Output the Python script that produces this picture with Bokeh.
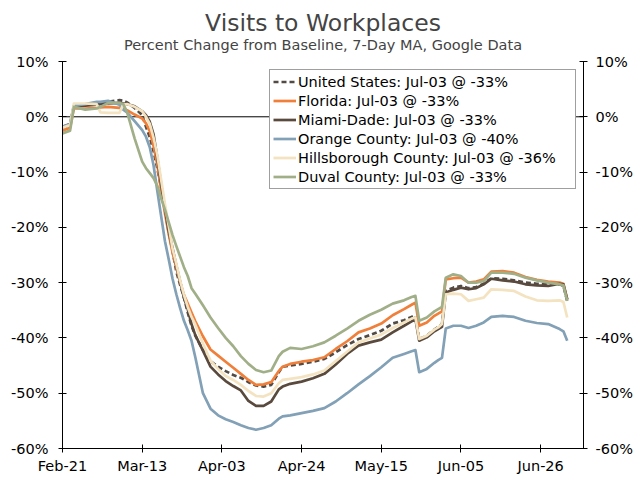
import pandas as pd
from bokeh.plotting import figure
from bokeh.models import (FixedTicker, PrintfTickFormatter, DatetimeTickFormatter,
                          LinearAxis, Span, Legend, LegendItem, Title, Range1d)
from bokeh.embed import file_html
from bokeh.resources import INLINE

# ---------------- data (percent change from baseline, 7-day MA) ----------------
start_date = "2020-02-21"
end_axis_date = "2020-07-07 07:00"
day_offsets = [0, 2, 3, 6, 9, 10, 12, 15, 16, 17,
               19, 21, 22, 23, 24, 25, 26, 27, 28, 29,
               30, 31, 32, 33, 34, 35, 37, 39, 41, 43,
               45, 47, 49, 51, 53, 55, 57, 58, 60, 63,
               66, 69, 72, 75, 78, 81, 84, 87, 90, 92,
               93, 94, 96, 98, 99, 100, 101, 103, 105, 107,
               109, 111, 113, 116, 119, 122, 125, 128, 131, 132,
               133]

united_states = [-2.0, -1.6, 2.0, 2.2, 2.4, 2.5, 2.7, 3.0, 2.9, 2.6,
                 1.6, 0.3, -1.8, -3.7, -6.2, -9.4, -12.8, -16.9, -21.0, -24.3,
                 -28.0, -30.4, -32.7, -35.4, -37.8, -39.6, -42.2, -44.2, -45.2, -46.0,
                 -46.7, -47.2, -48.0, -48.6, -48.8, -48.5, -46.2, -45.2, -45.0, -44.7,
                 -44.3, -43.8, -42.6, -41.3, -40.2, -39.5, -38.7, -37.4, -36.8, -36.2,
                 -36.0, -40.2, -39.6, -38.5, -38.0, -37.5, -31.5, -30.9, -30.6, -31.0,
                 -30.8, -30.2, -29.2, -29.3, -29.6, -30.0, -30.2, -30.3, -30.3, -30.6,
                 -33.3]

florida = [-2.5, -2.0, 1.5, 1.5, 1.6, 1.7, 1.8, 1.6, 1.5, 1.2,
           0.4, -0.3, -1.2, -2.6, -5.3, -8.7, -13.3, -17.5, -21.2, -24.6,
           -27.3, -29.9, -32.2, -33.8, -35.4, -37.0, -39.7, -42.1, -43.2, -44.3,
           -45.4, -46.5, -47.6, -48.5, -48.4, -48.0, -46.0, -45.2, -44.7, -44.3,
           -44.0, -43.5, -42.0, -40.6, -39.0, -38.3, -37.4, -35.9, -34.8, -34.0,
           -33.6, -37.8, -37.2, -36.0, -35.6, -35.2, -29.4, -29.2, -29.1, -30.0,
           -29.8, -29.4, -28.0, -27.9, -28.2, -29.0, -29.5, -29.8, -30.0, -30.2,
           -33.0]

miami_dade = [-1.8, -1.3, 2.0, 2.0, 2.2, 2.3, 2.4, 2.5, 2.4, 2.3,
              1.9, 1.0, 0.3, -0.9, -3.2, -7.5, -12.2, -16.6, -20.7, -23.8,
              -26.9, -29.8, -32.7, -34.8, -37.5, -39.5, -42.3, -45.2, -46.6, -47.8,
              -48.7, -49.5, -51.4, -52.3, -52.3, -51.5, -49.3, -48.8, -48.3, -47.9,
              -47.3, -46.5, -44.8, -42.9, -41.4, -40.8, -40.3, -39.0, -37.8, -37.0,
              -36.6, -40.5, -39.9, -38.8, -38.4, -38.0, -31.8, -31.3, -30.9, -31.2,
              -31.0, -30.3, -29.3, -29.6, -29.8, -30.3, -30.5, -30.6, -30.2, -30.3,
              -33.0]

orange_county = [-1.8, -1.3, 2.0, 2.3, 2.7, 2.7, 2.9, 2.2, 1.3, 0.8,
                 -0.8, -2.4, -3.6, -5.5, -8.8, -13.5, -18.0, -22.5, -25.8, -29.3,
                 -32.1, -34.6, -36.9, -38.6, -40.5, -43.5, -50.0, -52.8, -54.0, -54.7,
                 -55.2, -55.8, -56.3, -56.6, -56.3, -55.8, -54.6, -54.2, -54.0, -53.6,
                 -53.2, -52.7, -51.5, -50.0, -48.4, -46.9, -45.3, -43.6, -42.9, -42.4,
                 -42.2, -46.2, -45.6, -44.5, -44.0, -43.6, -38.3, -37.8, -37.8, -38.2,
                 -37.8, -37.2, -36.2, -36.0, -36.2, -36.9, -37.3, -37.5, -38.4, -38.8,
                 -40.5]

hillsborough = [-2.0, -1.5, 2.4, 2.4, 2.3, 0.8, 0.7, 0.7, 2.2, 2.3,
                1.8, 1.0, 0.0, -1.3, -3.8, -7.0, -11.4, -15.8, -19.8, -23.9,
                -26.6, -29.6, -32.2, -34.4, -36.2, -37.6, -41.0, -44.1, -45.6, -46.9,
                -47.6, -48.5, -49.6, -50.5, -50.6, -50.0, -48.2, -47.6, -47.4, -47.1,
                -46.6, -45.9, -44.2, -42.5, -40.8, -40.1, -39.4, -38.2, -37.2, -36.5,
                -36.3, -40.2, -39.6, -38.5, -38.1, -37.5, -32.1, -32.0, -32.1, -33.3,
                -33.0, -32.7, -31.2, -31.3, -31.5, -32.5, -33.2, -33.3, -33.2, -33.5,
                -36.3]

duval = [-3.0, -2.5, 1.8, 1.3, 1.5, 1.8, 2.5, 2.5, 2.3, 0.9,
         -3.9, -8.1, -9.3, -10.2, -11.1, -12.5, -14.8, -16.8, -19.1, -21.4,
         -23.4, -25.3, -27.2, -28.8, -31.0, -32.0, -34.1, -36.3, -38.2, -40.0,
         -41.5, -43.3, -44.7, -45.8, -46.2, -45.9, -43.3, -42.5, -41.8, -42.0,
         -41.5, -40.8, -39.6, -38.3, -36.9, -35.8, -34.9, -33.8, -33.2, -32.6,
         -32.4, -36.9, -36.3, -35.2, -34.8, -34.4, -29.1, -28.5, -28.8, -30.0,
         -30.0, -29.7, -28.2, -28.2, -28.4, -29.1, -29.6, -30.0, -30.3, -30.5,
         -33.3]

series_names = ["United States: Jul-03 @ -33%", "Florida: Jul-03 @ -33%",
                "Miami-Dade: Jul-03 @ -33%", "Orange County: Jul-03 @ -40%",
                "Hillsborough County: Jul-03 @ -36%", "Duval County: Jul-03 @ -33%"]
series_values = [united_states, florida, miami_dade, orange_county, hillsborough, duval]
series_colors = ["#524B45", "#F07F3A", "#5A4A3E", "#82A0B6", "#F3E3C1", "#A1AF88"]
series_dash = ["5 3", "solid", "solid", "solid", "solid", "solid"]

x_tick_dates = ["2020-02-21", "2020-03-13", "2020-04-03", "2020-04-24",
                "2020-05-15", "2020-06-05", "2020-06-26"]
y_ticks = [-60, -50, -40, -30, -20, -10, 0, 10]

title_text = "Visits to Workplaces"
subtitle_text = "Percent Change from Baseline, 7-Day MA, Google Data"

# ---------------- figure ----------------
FONT = "DejaVu Sans"
TICK_SIZE = "14.5px"
dates = pd.Timestamp(start_date) + pd.to_timedelta(day_offsets, unit="D")

p = figure(x_axis_type="datetime", output_backend="svg", toolbar_location=None,
           frame_width=521, frame_height=387,
           min_border_left=62, min_border_right=51, min_border_top=61, min_border_bottom=29,
           x_range=Range1d(pd.Timestamp(start_date), pd.Timestamp(end_axis_date)),
           y_range=Range1d(-60, 10), title=None)
p.outline_line_color = None
p.xgrid.visible = False
p.ygrid.visible = False
p.background_fill_color = "white"
p.border_fill_color = "white"

p.add_layout(Span(location=0, dimension="width", line_color="black",
                  line_width=1, level="underlay"))

renderers = []
for vals, col, dash in zip(series_values, series_colors, series_dash):
    r = p.line(dates, vals, line_color=col, line_width=2.7, line_dash=dash,
               line_join="round")
    renderers.append(r)

# axes
tick_ms = [pd.Timestamp(d).value / 1e6 for d in x_tick_dates]
p.xaxis.ticker = FixedTicker(ticks=tick_ms)
fmt = "%b-%d"
p.xaxis.formatter = DatetimeTickFormatter(
    microseconds=fmt, milliseconds=fmt, seconds=fmt, minsec=fmt, minutes=fmt,
    hourmin=fmt, hours=fmt, days=fmt, months=fmt, years=fmt)
p.yaxis.ticker = FixedTicker(ticks=y_ticks)
p.yaxis.formatter = PrintfTickFormatter(format="%d%%")

right_axis = LinearAxis(ticker=FixedTicker(ticks=y_ticks),
                        formatter=PrintfTickFormatter(format="%d%%"))
p.add_layout(right_axis, "right")

for ax in [p.xaxis[0], p.yaxis[0], right_axis]:
    ax.axis_line_color = "black"
    ax.axis_line_width = 1
    ax.major_tick_line_color = "black"
    ax.major_tick_in = 4
    ax.major_tick_out = 4
    ax.minor_tick_line_color = None
    ax.major_label_text_font = FONT
    ax.major_label_text_font_size = TICK_SIZE
    ax.major_label_text_color = "black"
p.xaxis.major_label_standoff = 5
p.yaxis.major_label_standoff = 10
right_axis.major_label_standoff = 8

# legend
items = [LegendItem(label=n, renderers=[r]) for n, r in zip(series_names, renderers)]
legend = Legend(items=items, location=(207, 259), orientation="vertical",
                label_text_font=FONT, label_text_font_size="14.5px",
                label_text_color="black",
                glyph_width=23, glyph_height=17, label_height=17, label_width=274,
                spacing=2, padding=3, label_standoff=2, margin=0,
                border_line_color="#404040", border_line_width=1,
                background_fill_color="white", background_fill_alpha=1.0)
p.add_layout(legend)

# titles (first added sits closest to the frame)
p.add_layout(Title(text=subtitle_text, align="center", text_font=FONT,
                   text_font_size="14.5px", text_font_style="normal",
                   standoff=17), "above")
p.add_layout(Title(text=title_text, align="center", text_font=FONT,
                   text_font_size="23.5px", text_font_style="normal",
                   standoff=-20), "above")

open("out.html", "w").write(file_html(p, INLINE))
